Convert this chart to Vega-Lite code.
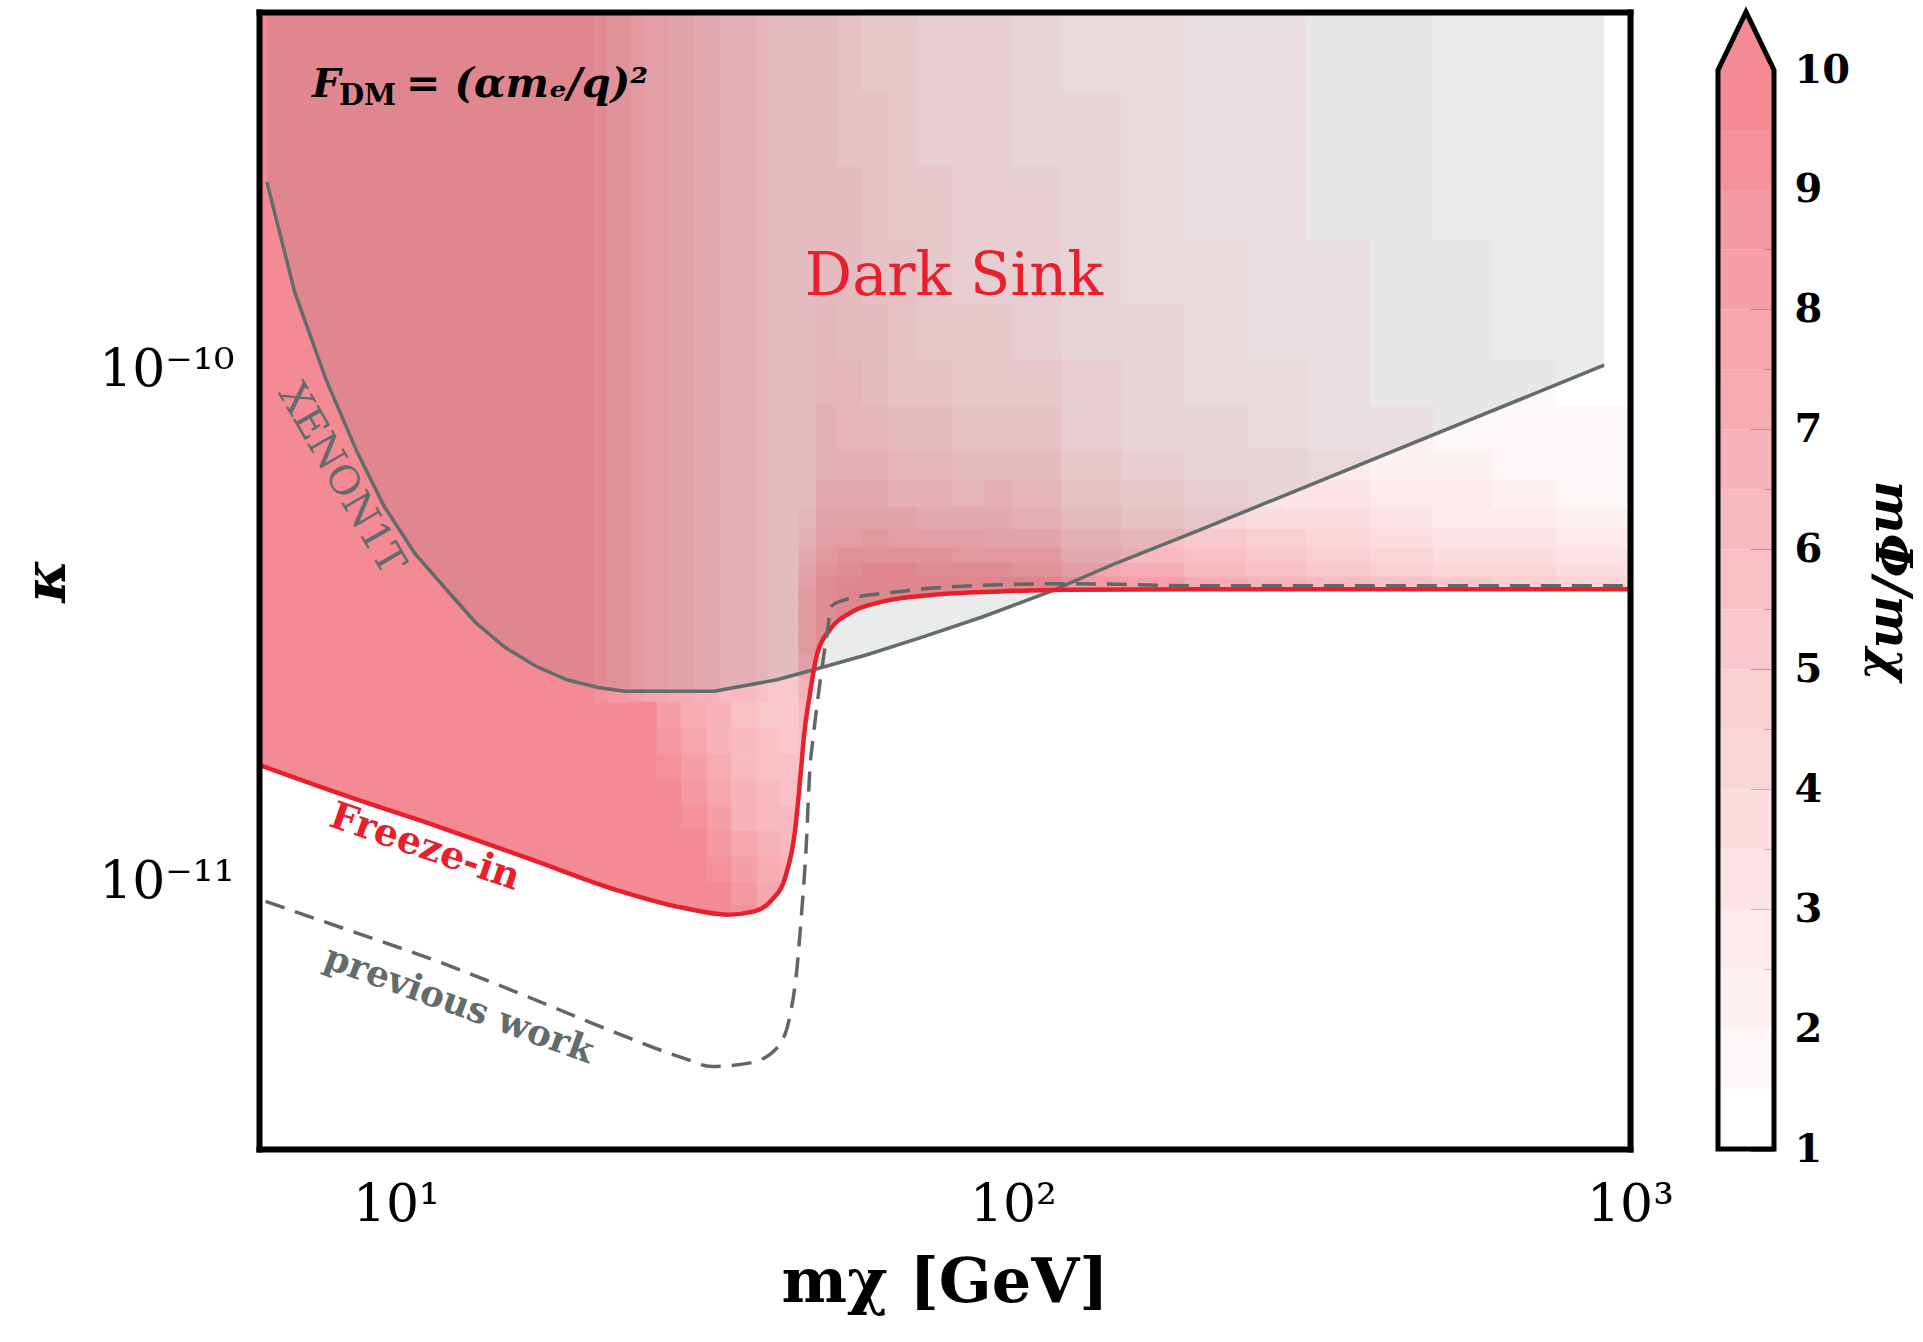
{
  "$schema": "https://vega.github.io/schema/vega-lite/v6.json",
  "autosize": {"type": "none"},
  "width": 1371,
  "height": 1137,
  "padding": {"left": 259, "top": 12, "right": 293, "bottom": 193},
  "background": "white",
  "config": {
    "view": {"stroke": null},
    "axis": {"grid": false, "domain": false, "tickColor": "black", "labelColor": "black", "titleColor": "black", "zindex": 1}
  },
  "datasets": {
    "cells": [
      {"m0":5.9,"m1":20,"k0":3e-12,"k1":5e-10,"v":10},
      {"m0":20,"m1":22,"k0":3e-12,"k1":2.24e-11,"v":10},
      {"m0":22,"m1":24,"k0":3e-12,"k1":2.24e-11,"v":10},
      {"m0":20,"m1":21,"k0":2.24e-11,"k1":5e-10,"v":9.8},
      {"m0":21,"m1":22,"k0":2.24e-11,"k1":5e-10,"v":9.38},
      {"m0":22,"m1":23,"k0":2.24e-11,"k1":5e-10,"v":8.96},
      {"m0":23,"m1":24,"k0":2.24e-11,"k1":5e-10,"v":8.63},
      {"m0":24,"m1":25.2,"k0":2.24e-11,"k1":5e-10,"v":8.28},
      {"m0":25.2,"m1":26.5,"k0":2.24e-11,"k1":5e-10,"v":7.93},
      {"m0":26.5,"m1":27.7,"k0":2.24e-11,"k1":5e-10,"v":7.65},
      {"m0":27.7,"m1":29,"k0":2.24e-11,"k1":5e-10,"v":7.39},
      {"m0":29,"m1":30.5,"k0":2.24e-11,"k1":5e-10,"v":7.12},
      {"m0":30.5,"m1":32,"k0":2.24e-11,"k1":5e-10,"v":6.88},
      {"m0":32,"m1":33.5,"k0":2.24e-11,"k1":5e-10,"v":6.66},
      {"m0":33.5,"m1":35,"k0":2.24e-11,"k1":5e-10,"v":6.46},
      {"m0":35,"m1":36.7,"k0":2.24e-11,"k1":5e-10,"v":6.26},
      {"m0":36.7,"m1":38.5,"k0":2.24e-11,"k1":5e-10,"v":6.06},
      {"m0":38.5,"m1":40.2,"k0":2.24e-11,"k1":5e-10,"v":5.6},
      {"m0":40.2,"m1":42,"k0":2.24e-11,"k1":5e-10,"v":5.4},
      {"m0":42,"m1":43.5,"k0":2.24e-11,"k1":5e-10,"v":5.2},
      {"m0":43.5,"m1":45,"k0":2.24e-11,"k1":5e-10,"v":5.0},
      {"m0":24,"m1":26.5,"k0":3e-12,"k1":2e-11,"v":10},
      {"m0":24,"m1":26.5,"k0":2e-11,"k1":2.24e-11,"v":9.55},
      {"m0":26.5,"m1":29,"k0":3e-12,"k1":1.58e-11,"v":10},
      {"m0":26.5,"m1":29,"k0":1.58e-11,"k1":1.78e-11,"v":9.48},
      {"m0":26.5,"m1":29,"k0":1.78e-11,"k1":2e-11,"v":8.84},
      {"m0":26.5,"m1":29,"k0":2e-11,"k1":2.24e-11,"v":8.28},
      {"m0":29,"m1":32,"k0":3e-12,"k1":1.26e-11,"v":10},
      {"m0":29,"m1":32,"k0":1.26e-11,"k1":1.41e-11,"v":9.44},
      {"m0":29,"m1":32,"k0":1.41e-11,"k1":1.58e-11,"v":8.76},
      {"m0":29,"m1":32,"k0":1.58e-11,"k1":1.78e-11,"v":8.18},
      {"m0":29,"m1":32,"k0":1.78e-11,"k1":2e-11,"v":7.69},
      {"m0":29,"m1":32,"k0":2e-11,"k1":2.24e-11,"v":7.25},
      {"m0":32,"m1":35,"k0":3e-12,"k1":1e-11,"v":10},
      {"m0":32,"m1":35,"k0":1e-11,"k1":1.12e-11,"v":9.42},
      {"m0":32,"m1":35,"k0":1.12e-11,"k1":1.26e-11,"v":8.68},
      {"m0":32,"m1":35,"k0":1.26e-11,"k1":1.41e-11,"v":8.03},
      {"m0":32,"m1":35,"k0":1.41e-11,"k1":1.58e-11,"v":7.55},
      {"m0":32,"m1":35,"k0":1.58e-11,"k1":1.78e-11,"v":7.13},
      {"m0":32,"m1":35,"k0":1.78e-11,"k1":2e-11,"v":6.75},
      {"m0":32,"m1":35,"k0":2e-11,"k1":2.24e-11,"v":6.5},
      {"m0":35,"m1":38.5,"k0":3e-12,"k1":9e-12,"v":9.41},
      {"m0":35,"m1":38.5,"k0":9e-12,"k1":1e-11,"v":8.75},
      {"m0":35,"m1":38.5,"k0":1e-11,"k1":1.12e-11,"v":8.13},
      {"m0":35,"m1":38.5,"k0":1.12e-11,"k1":1.26e-11,"v":7.51},
      {"m0":35,"m1":38.5,"k0":1.26e-11,"k1":1.41e-11,"v":6.99},
      {"m0":35,"m1":38.5,"k0":1.41e-11,"k1":1.58e-11,"v":6.65},
      {"m0":35,"m1":38.5,"k0":1.58e-11,"k1":1.78e-11,"v":6.34},
      {"m0":35,"m1":38.5,"k0":1.78e-11,"k1":2e-11,"v":6.1},
      {"m0":35,"m1":38.5,"k0":2e-11,"k1":2.24e-11,"v":5.9},
      {"m0":38.5,"m1":42,"k0":3e-12,"k1":9e-12,"v":8.36},
      {"m0":38.5,"m1":42,"k0":9e-12,"k1":1e-11,"v":7.87},
      {"m0":38.5,"m1":42,"k0":1e-11,"k1":1.12e-11,"v":7.33},
      {"m0":38.5,"m1":42,"k0":1.12e-11,"k1":1.26e-11,"v":6.79},
      {"m0":38.5,"m1":42,"k0":1.26e-11,"k1":1.41e-11,"v":6.34},
      {"m0":38.5,"m1":42,"k0":1.41e-11,"k1":1.58e-11,"v":6.09},
      {"m0":38.5,"m1":42,"k0":1.58e-11,"k1":1.78e-11,"v":5.86},
      {"m0":38.5,"m1":42,"k0":1.78e-11,"k1":2e-11,"v":5.63},
      {"m0":38.5,"m1":42,"k0":2e-11,"k1":2.24e-11,"v":5.45},
      {"m0":42,"m1":45,"k0":3e-12,"k1":9e-12,"v":7.89},
      {"m0":42,"m1":45,"k0":9e-12,"k1":1e-11,"v":7.47},
      {"m0":42,"m1":45,"k0":1e-11,"k1":1.12e-11,"v":6.97},
      {"m0":42,"m1":45,"k0":1.12e-11,"k1":1.26e-11,"v":6.46},
      {"m0":42,"m1":45,"k0":1.26e-11,"k1":1.41e-11,"v":6.05},
      {"m0":42,"m1":45,"k0":1.41e-11,"k1":1.58e-11,"v":5.85},
      {"m0":42,"m1":45,"k0":1.58e-11,"k1":1.78e-11,"v":5.64},
      {"m0":42,"m1":45,"k0":1.78e-11,"k1":2e-11,"v":5.44},
      {"m0":42,"m1":45,"k0":2e-11,"k1":2.24e-11,"v":5.23},
      {"m0":45,"m1":48,"k0":1.2e-11,"k1":1.58e-11,"v":5.8},
      {"m0":45,"m1":48,"k0":1.58e-11,"k1":1.78e-11,"v":5.8},
      {"m0":45,"m1":48,"k0":1.78e-11,"k1":2e-11,"v":5.9},
      {"m0":45,"m1":48,"k0":2e-11,"k1":2.24e-11,"v":6.2},
      {"m0":45,"m1":48,"k0":2.24e-11,"k1":2.5e-11,"v":6.8},
      {"m0":45,"m1":48,"k0":2.5e-11,"k1":2.8e-11,"v":7.8},
      {"m0":45,"m1":48,"k0":2.8e-11,"k1":3.15e-11,"v":8.3},
      {"m0":45,"m1":48,"k0":3.15e-11,"k1":3.5e-11,"v":8.4},
      {"m0":45,"m1":48,"k0":3.5e-11,"k1":3.72e-11,"v":8.2},
      {"m0":45,"m1":48,"k0":3.72e-11,"k1":3.95e-11,"v":7.7},
      {"m0":45,"m1":48,"k0":3.95e-11,"k1":4.2e-11,"v":7.1},
      {"m0":45,"m1":48,"k0":4.2e-11,"k1":4.5e-11,"v":6.5},
      {"m0":45,"m1":48,"k0":4.5e-11,"k1":4.9e-11,"v":6.0},
      {"m0":45,"m1":48,"k0":4.9e-11,"k1":5.4e-11,"v":5.6},
      {"m0":45,"m1":48,"k0":5.4e-11,"k1":6.1e-11,"v":5.4},
      {"m0":45,"m1":48,"k0":6.1e-11,"k1":7e-11,"v":5.3},
      {"m0":45,"m1":48,"k0":7e-11,"k1":8.5e-11,"v":5.2},
      {"m0":45,"m1":48,"k0":8.5e-11,"k1":1.05e-10,"v":5.15},
      {"m0":45,"m1":48,"k0":1.05e-10,"k1":5e-10,"v":5.1},
      {"m0":48,"m1":52,"k0":2.5e-11,"k1":2.8e-11,"v":8.5},
      {"m0":48,"m1":52,"k0":2.8e-11,"k1":3.15e-11,"v":9.0},
      {"m0":48,"m1":52,"k0":3.15e-11,"k1":3.5e-11,"v":9.3},
      {"m0":48,"m1":52,"k0":3.5e-11,"k1":3.72e-11,"v":9.3},
      {"m0":48,"m1":52,"k0":3.72e-11,"k1":3.95e-11,"v":9.16},
      {"m0":48,"m1":52,"k0":3.95e-11,"k1":4.2e-11,"v":8.62},
      {"m0":48,"m1":52,"k0":4.2e-11,"k1":4.5e-11,"v":8.12},
      {"m0":48,"m1":52,"k0":4.5e-11,"k1":4.9e-11,"v":7.62},
      {"m0":48,"m1":52,"k0":4.9e-11,"k1":5.4e-11,"v":7.16},
      {"m0":48,"m1":52,"k0":5.4e-11,"k1":6.1e-11,"v":6.74},
      {"m0":48,"m1":52,"k0":6.1e-11,"k1":7e-11,"v":6.36},
      {"m0":48,"m1":52,"k0":7e-11,"k1":8.5e-11,"v":6.03},
      {"m0":48,"m1":52,"k0":8.5e-11,"k1":1.05e-10,"v":5.77},
      {"m0":48,"m1":52,"k0":1.05e-10,"k1":1.35e-10,"v":5.58},
      {"m0":48,"m1":52,"k0":1.35e-10,"k1":1.8e-10,"v":5.43},
      {"m0":48,"m1":52,"k0":1.8e-10,"k1":2.5e-10,"v":5.31},
      {"m0":48,"m1":52,"k0":2.5e-10,"k1":3.5e-10,"v":5.2},
      {"m0":48,"m1":52,"k0":3.5e-10,"k1":5e-10,"v":5.1},
      {"m0":52,"m1":57,"k0":3.15e-11,"k1":3.5e-11,"v":9.6},
      {"m0":52,"m1":57,"k0":3.5e-11,"k1":3.72e-11,"v":10},
      {"m0":52,"m1":57,"k0":3.72e-11,"k1":3.95e-11,"v":10.05},
      {"m0":52,"m1":57,"k0":3.95e-11,"k1":4.2e-11,"v":9.32},
      {"m0":52,"m1":57,"k0":4.2e-11,"k1":4.5e-11,"v":8.65},
      {"m0":52,"m1":57,"k0":4.5e-11,"k1":4.9e-11,"v":7.99},
      {"m0":52,"m1":57,"k0":4.9e-11,"k1":5.4e-11,"v":7.38},
      {"m0":52,"m1":57,"k0":5.4e-11,"k1":6.1e-11,"v":6.82},
      {"m0":52,"m1":57,"k0":6.1e-11,"k1":7e-11,"v":6.32},
      {"m0":52,"m1":57,"k0":7e-11,"k1":8.5e-11,"v":5.9},
      {"m0":52,"m1":57,"k0":8.5e-11,"k1":1.05e-10,"v":5.56},
      {"m0":52,"m1":57,"k0":1.05e-10,"k1":1.35e-10,"v":5.33},
      {"m0":52,"m1":57,"k0":1.35e-10,"k1":1.8e-10,"v":5.16},
      {"m0":52,"m1":57,"k0":1.8e-10,"k1":2.5e-10,"v":5.03},
      {"m0":52,"m1":57,"k0":2.5e-10,"k1":3.5e-10,"v":4.91},
      {"m0":52,"m1":57,"k0":3.5e-10,"k1":5e-10,"v":4.81},
      {"m0":57,"m1":63,"k0":3.15e-11,"k1":3.5e-11,"v":10},
      {"m0":57,"m1":63,"k0":3.5e-11,"k1":3.72e-11,"v":10.5},
      {"m0":57,"m1":63,"k0":3.72e-11,"k1":3.95e-11,"v":10.48},
      {"m0":57,"m1":63,"k0":3.95e-11,"k1":4.2e-11,"v":9.62},
      {"m0":57,"m1":63,"k0":4.2e-11,"k1":4.5e-11,"v":8.85},
      {"m0":57,"m1":63,"k0":4.5e-11,"k1":4.9e-11,"v":8.08},
      {"m0":57,"m1":63,"k0":4.9e-11,"k1":5.4e-11,"v":7.38},
      {"m0":57,"m1":63,"k0":5.4e-11,"k1":6.1e-11,"v":6.73},
      {"m0":57,"m1":63,"k0":6.1e-11,"k1":7e-11,"v":6.16},
      {"m0":57,"m1":63,"k0":7e-11,"k1":8.5e-11,"v":5.67},
      {"m0":57,"m1":63,"k0":8.5e-11,"k1":1.05e-10,"v":5.3},
      {"m0":57,"m1":63,"k0":1.05e-10,"k1":1.35e-10,"v":5.04},
      {"m0":57,"m1":63,"k0":1.35e-10,"k1":1.8e-10,"v":4.85},
      {"m0":57,"m1":63,"k0":1.8e-10,"k1":2.5e-10,"v":4.71},
      {"m0":57,"m1":63,"k0":2.5e-10,"k1":3.5e-10,"v":4.6},
      {"m0":57,"m1":63,"k0":3.5e-10,"k1":5e-10,"v":4.49},
      {"m0":63,"m1":70,"k0":3.5e-11,"k1":3.72e-11,"v":10.5},
      {"m0":63,"m1":70,"k0":3.72e-11,"k1":3.95e-11,"v":10.45},
      {"m0":63,"m1":70,"k0":3.95e-11,"k1":4.2e-11,"v":9.54},
      {"m0":63,"m1":70,"k0":4.2e-11,"k1":4.5e-11,"v":8.73},
      {"m0":63,"m1":70,"k0":4.5e-11,"k1":4.9e-11,"v":7.91},
      {"m0":63,"m1":70,"k0":4.9e-11,"k1":5.4e-11,"v":7.17},
      {"m0":63,"m1":70,"k0":5.4e-11,"k1":6.1e-11,"v":6.49},
      {"m0":63,"m1":70,"k0":6.1e-11,"k1":7e-11,"v":5.89},
      {"m0":63,"m1":70,"k0":7e-11,"k1":8.5e-11,"v":5.37},
      {"m0":63,"m1":70,"k0":8.5e-11,"k1":1.05e-10,"v":4.98},
      {"m0":63,"m1":70,"k0":1.05e-10,"k1":1.35e-10,"v":4.71},
      {"m0":63,"m1":70,"k0":1.35e-10,"k1":1.8e-10,"v":4.51},
      {"m0":63,"m1":70,"k0":1.8e-10,"k1":2.5e-10,"v":4.37},
      {"m0":63,"m1":70,"k0":2.5e-10,"k1":3.5e-10,"v":4.25},
      {"m0":63,"m1":70,"k0":3.5e-10,"k1":5e-10,"v":4.14},
      {"m0":70,"m1":80,"k0":3.5e-11,"k1":3.72e-11,"v":10.5},
      {"m0":70,"m1":80,"k0":3.72e-11,"k1":3.95e-11,"v":10.41},
      {"m0":70,"m1":80,"k0":3.95e-11,"k1":4.2e-11,"v":9.46},
      {"m0":70,"m1":80,"k0":4.2e-11,"k1":4.5e-11,"v":8.59},
      {"m0":70,"m1":80,"k0":4.5e-11,"k1":4.9e-11,"v":7.73},
      {"m0":70,"m1":80,"k0":4.9e-11,"k1":5.4e-11,"v":6.94},
      {"m0":70,"m1":80,"k0":5.4e-11,"k1":6.1e-11,"v":6.22},
      {"m0":70,"m1":80,"k0":6.1e-11,"k1":7e-11,"v":5.59},
      {"m0":70,"m1":80,"k0":7e-11,"k1":8.5e-11,"v":5.05},
      {"m0":70,"m1":80,"k0":8.5e-11,"k1":1.05e-10,"v":4.64},
      {"m0":70,"m1":80,"k0":1.05e-10,"k1":1.35e-10,"v":4.35},
      {"m0":70,"m1":80,"k0":1.35e-10,"k1":1.8e-10,"v":4.11},
      {"m0":70,"m1":80,"k0":1.8e-10,"k1":2.5e-10,"v":4.0},
      {"m0":70,"m1":80,"k0":2.5e-10,"k1":3.5e-10,"v":3.94},
      {"m0":70,"m1":80,"k0":3.5e-10,"k1":5e-10,"v":3.87},
      {"m0":80,"m1":90,"k0":3.5e-11,"k1":3.72e-11,"v":10.5},
      {"m0":80,"m1":90,"k0":3.72e-11,"k1":3.95e-11,"v":10.38},
      {"m0":80,"m1":90,"k0":3.95e-11,"k1":4.2e-11,"v":9.35},
      {"m0":80,"m1":90,"k0":4.2e-11,"k1":4.5e-11,"v":8.44},
      {"m0":80,"m1":90,"k0":4.5e-11,"k1":4.9e-11,"v":7.52},
      {"m0":80,"m1":90,"k0":4.9e-11,"k1":5.4e-11,"v":6.7},
      {"m0":80,"m1":90,"k0":5.4e-11,"k1":6.1e-11,"v":5.95},
      {"m0":80,"m1":90,"k0":6.1e-11,"k1":7e-11,"v":5.29},
      {"m0":80,"m1":90,"k0":7e-11,"k1":8.5e-11,"v":4.75},
      {"m0":80,"m1":90,"k0":8.5e-11,"k1":1.05e-10,"v":4.34},
      {"m0":80,"m1":90,"k0":1.05e-10,"k1":1.35e-10,"v":4.07},
      {"m0":80,"m1":90,"k0":1.35e-10,"k1":1.8e-10,"v":3.91},
      {"m0":80,"m1":90,"k0":1.8e-10,"k1":2.5e-10,"v":3.81},
      {"m0":80,"m1":90,"k0":2.5e-10,"k1":3.5e-10,"v":3.74},
      {"m0":80,"m1":90,"k0":3.5e-10,"k1":5e-10,"v":3.67},
      {"m0":90,"m1":100,"k0":3.5e-11,"k1":3.72e-11,"v":10.5},
      {"m0":90,"m1":100,"k0":3.72e-11,"k1":3.95e-11,"v":9.96},
      {"m0":90,"m1":100,"k0":3.95e-11,"k1":4.2e-11,"v":9.08},
      {"m0":90,"m1":100,"k0":4.2e-11,"k1":4.5e-11,"v":8.28},
      {"m0":90,"m1":100,"k0":4.5e-11,"k1":4.9e-11,"v":7.46},
      {"m0":90,"m1":100,"k0":4.9e-11,"k1":5.4e-11,"v":6.72},
      {"m0":90,"m1":100,"k0":5.4e-11,"k1":6.1e-11,"v":6.02},
      {"m0":90,"m1":100,"k0":6.1e-11,"k1":7e-11,"v":5.37},
      {"m0":90,"m1":100,"k0":7e-11,"k1":8.5e-11,"v":4.8},
      {"m0":90,"m1":100,"k0":8.5e-11,"k1":1.05e-10,"v":4.39},
      {"m0":90,"m1":100,"k0":1.05e-10,"k1":1.35e-10,"v":4.1},
      {"m0":90,"m1":100,"k0":1.35e-10,"k1":1.8e-10,"v":3.91},
      {"m0":90,"m1":100,"k0":1.8e-10,"k1":2.5e-10,"v":3.75},
      {"m0":90,"m1":100,"k0":2.5e-10,"k1":3.5e-10,"v":3.62},
      {"m0":90,"m1":100,"k0":3.5e-10,"k1":5e-10,"v":3.5},
      {"m0":100,"m1":120,"k0":3.5e-11,"k1":3.72e-11,"v":10.5},
      {"m0":100,"m1":120,"k0":3.72e-11,"k1":3.95e-11,"v":9.92},
      {"m0":100,"m1":120,"k0":3.95e-11,"k1":4.2e-11,"v":8.97},
      {"m0":100,"m1":120,"k0":4.2e-11,"k1":4.5e-11,"v":8.12},
      {"m0":100,"m1":120,"k0":4.5e-11,"k1":4.9e-11,"v":7.26},
      {"m0":100,"m1":120,"k0":4.9e-11,"k1":5.4e-11,"v":6.48},
      {"m0":100,"m1":120,"k0":5.4e-11,"k1":6.1e-11,"v":5.77},
      {"m0":100,"m1":120,"k0":6.1e-11,"k1":7e-11,"v":5.13},
      {"m0":100,"m1":120,"k0":7e-11,"k1":8.5e-11,"v":4.59},
      {"m0":100,"m1":120,"k0":8.5e-11,"k1":1.05e-10,"v":4.17},
      {"m0":100,"m1":120,"k0":1.05e-10,"k1":1.35e-10,"v":3.88},
      {"m0":100,"m1":120,"k0":1.35e-10,"k1":1.8e-10,"v":3.68},
      {"m0":100,"m1":120,"k0":1.8e-10,"k1":2.5e-10,"v":3.51},
      {"m0":100,"m1":120,"k0":2.5e-10,"k1":3.5e-10,"v":3.38},
      {"m0":100,"m1":120,"k0":3.5e-10,"k1":5e-10,"v":3.25},
      {"m0":120,"m1":150,"k0":3.7e-11,"k1":3.95e-11,"v":8.86},
      {"m0":120,"m1":150,"k0":3.95e-11,"k1":4.2e-11,"v":7.84},
      {"m0":120,"m1":150,"k0":4.2e-11,"k1":4.5e-11,"v":6.96},
      {"m0":120,"m1":150,"k0":4.5e-11,"k1":4.9e-11,"v":6.12},
      {"m0":120,"m1":150,"k0":4.9e-11,"k1":5.4e-11,"v":5.41},
      {"m0":120,"m1":150,"k0":5.4e-11,"k1":6.1e-11,"v":4.79},
      {"m0":120,"m1":150,"k0":6.1e-11,"k1":7e-11,"v":4.29},
      {"m0":120,"m1":150,"k0":7e-11,"k1":8.5e-11,"v":3.88},
      {"m0":120,"m1":150,"k0":8.5e-11,"k1":1.05e-10,"v":3.6},
      {"m0":120,"m1":150,"k0":1.05e-10,"k1":1.35e-10,"v":3.4},
      {"m0":120,"m1":150,"k0":1.35e-10,"k1":1.8e-10,"v":3.26},
      {"m0":120,"m1":150,"k0":1.8e-10,"k1":2.5e-10,"v":3.14},
      {"m0":120,"m1":150,"k0":2.5e-10,"k1":3.5e-10,"v":3.02},
      {"m0":120,"m1":150,"k0":3.5e-10,"k1":5e-10,"v":2.92},
      {"m0":150,"m1":190,"k0":3.7e-11,"k1":3.95e-11,"v":8.11},
      {"m0":150,"m1":190,"k0":3.95e-11,"k1":4.2e-11,"v":7.16},
      {"m0":150,"m1":190,"k0":4.2e-11,"k1":4.5e-11,"v":6.34},
      {"m0":150,"m1":190,"k0":4.5e-11,"k1":4.9e-11,"v":5.56},
      {"m0":150,"m1":190,"k0":4.9e-11,"k1":5.4e-11,"v":4.9},
      {"m0":150,"m1":190,"k0":5.4e-11,"k1":6.1e-11,"v":4.32},
      {"m0":150,"m1":190,"k0":6.1e-11,"k1":7e-11,"v":3.85},
      {"m0":150,"m1":190,"k0":7e-11,"k1":8.5e-11,"v":3.47},
      {"m0":150,"m1":190,"k0":8.5e-11,"k1":1.05e-10,"v":3.19},
      {"m0":150,"m1":190,"k0":1.05e-10,"k1":1.35e-10,"v":3.03},
      {"m0":150,"m1":190,"k0":1.35e-10,"k1":1.8e-10,"v":2.9},
      {"m0":150,"m1":190,"k0":1.8e-10,"k1":2.5e-10,"v":2.8},
      {"m0":150,"m1":190,"k0":2.5e-10,"k1":3.5e-10,"v":2.7},
      {"m0":150,"m1":190,"k0":3.5e-10,"k1":5e-10,"v":2.61},
      {"m0":190,"m1":240,"k0":3.7e-11,"k1":3.95e-11,"v":7.35},
      {"m0":190,"m1":240,"k0":3.95e-11,"k1":4.2e-11,"v":6.49},
      {"m0":190,"m1":240,"k0":4.2e-11,"k1":4.5e-11,"v":5.73},
      {"m0":190,"m1":240,"k0":4.5e-11,"k1":4.9e-11,"v":5.01},
      {"m0":190,"m1":240,"k0":4.9e-11,"k1":5.4e-11,"v":4.4},
      {"m0":190,"m1":240,"k0":5.4e-11,"k1":6.1e-11,"v":3.87},
      {"m0":190,"m1":240,"k0":6.1e-11,"k1":7e-11,"v":3.44},
      {"m0":190,"m1":240,"k0":7e-11,"k1":8.5e-11,"v":3.1},
      {"m0":190,"m1":240,"k0":8.5e-11,"k1":1.05e-10,"v":2.86},
      {"m0":190,"m1":240,"k0":1.05e-10,"k1":1.35e-10,"v":2.7},
      {"m0":190,"m1":240,"k0":1.35e-10,"k1":1.8e-10,"v":2.58},
      {"m0":190,"m1":240,"k0":1.8e-10,"k1":2.5e-10,"v":2.48},
      {"m0":190,"m1":240,"k0":2.5e-10,"k1":3.5e-10,"v":2.39},
      {"m0":190,"m1":240,"k0":3.5e-10,"k1":5e-10,"v":2.31},
      {"m0":240,"m1":300,"k0":3.7e-11,"k1":3.95e-11,"v":6.69},
      {"m0":240,"m1":300,"k0":3.95e-11,"k1":4.2e-11,"v":5.89},
      {"m0":240,"m1":300,"k0":4.2e-11,"k1":4.5e-11,"v":5.19},
      {"m0":240,"m1":300,"k0":4.5e-11,"k1":4.9e-11,"v":4.53},
      {"m0":240,"m1":300,"k0":4.9e-11,"k1":5.4e-11,"v":3.97},
      {"m0":240,"m1":300,"k0":5.4e-11,"k1":6.1e-11,"v":3.47},
      {"m0":240,"m1":300,"k0":6.1e-11,"k1":7e-11,"v":3.08},
      {"m0":240,"m1":300,"k0":7e-11,"k1":8.5e-11,"v":2.76},
      {"m0":240,"m1":300,"k0":8.5e-11,"k1":1.05e-10,"v":2.53},
      {"m0":240,"m1":300,"k0":1.05e-10,"k1":1.35e-10,"v":2.39},
      {"m0":240,"m1":300,"k0":1.35e-10,"k1":1.8e-10,"v":2.28},
      {"m0":240,"m1":300,"k0":1.8e-10,"k1":2.5e-10,"v":2.19},
      {"m0":240,"m1":300,"k0":2.5e-10,"k1":3.5e-10,"v":2.1},
      {"m0":240,"m1":300,"k0":3.5e-10,"k1":5e-10,"v":2.02},
      {"m0":300,"m1":380,"k0":3.7e-11,"k1":3.95e-11,"v":6.13},
      {"m0":300,"m1":380,"k0":3.95e-11,"k1":4.2e-11,"v":5.38},
      {"m0":300,"m1":380,"k0":4.2e-11,"k1":4.5e-11,"v":4.73},
      {"m0":300,"m1":380,"k0":4.5e-11,"k1":4.9e-11,"v":4.11},
      {"m0":300,"m1":380,"k0":4.9e-11,"k1":5.4e-11,"v":3.58},
      {"m0":300,"m1":380,"k0":5.4e-11,"k1":6.1e-11,"v":3.12},
      {"m0":300,"m1":380,"k0":6.1e-11,"k1":7e-11,"v":2.75},
      {"m0":300,"m1":380,"k0":7e-11,"k1":8.5e-11,"v":2.45},
      {"m0":300,"m1":380,"k0":8.5e-11,"k1":1.05e-10,"v":2.23},
      {"m0":300,"m1":380,"k0":1.05e-10,"k1":1.35e-10,"v":2.1},
      {"m0":300,"m1":380,"k0":1.35e-10,"k1":1.8e-10,"v":2.0},
      {"m0":300,"m1":380,"k0":1.8e-10,"k1":2.5e-10,"v":1.93},
      {"m0":300,"m1":380,"k0":2.5e-10,"k1":3.5e-10,"v":1.86},
      {"m0":300,"m1":380,"k0":3.5e-10,"k1":5e-10,"v":1.79},
      {"m0":380,"m1":480,"k0":3.7e-11,"k1":3.95e-11,"v":5.56},
      {"m0":380,"m1":480,"k0":3.95e-11,"k1":4.2e-11,"v":4.87},
      {"m0":380,"m1":480,"k0":4.2e-11,"k1":4.5e-11,"v":4.26},
      {"m0":380,"m1":480,"k0":4.5e-11,"k1":4.9e-11,"v":3.69},
      {"m0":380,"m1":480,"k0":4.9e-11,"k1":5.4e-11,"v":3.21},
      {"m0":380,"m1":480,"k0":5.4e-11,"k1":6.1e-11,"v":2.79},
      {"m0":380,"m1":480,"k0":6.1e-11,"k1":7e-11,"v":2.44},
      {"m0":380,"m1":480,"k0":7e-11,"k1":8.5e-11,"v":2.17},
      {"m0":380,"m1":480,"k0":8.5e-11,"k1":1.05e-10,"v":1.98},
      {"m0":380,"m1":480,"k0":1.05e-10,"k1":1.35e-10,"v":1.86},
      {"m0":380,"m1":480,"k0":1.35e-10,"k1":1.8e-10,"v":1.77},
      {"m0":380,"m1":480,"k0":1.8e-10,"k1":2.5e-10,"v":1.71},
      {"m0":380,"m1":480,"k0":2.5e-10,"k1":3.5e-10,"v":1.63},
      {"m0":380,"m1":480,"k0":3.5e-10,"k1":5e-10,"v":1.57},
      {"m0":480,"m1":600,"k0":3.7e-11,"k1":3.95e-11,"v":5.09},
      {"m0":480,"m1":600,"k0":3.95e-11,"k1":4.2e-11,"v":4.45},
      {"m0":480,"m1":600,"k0":4.2e-11,"k1":4.5e-11,"v":3.88},
      {"m0":480,"m1":600,"k0":4.5e-11,"k1":4.9e-11,"v":3.35},
      {"m0":480,"m1":600,"k0":4.9e-11,"k1":5.4e-11,"v":2.9},
      {"m0":480,"m1":600,"k0":5.4e-11,"k1":6.1e-11,"v":2.5},
      {"m0":480,"m1":600,"k0":6.1e-11,"k1":7e-11,"v":2.19},
      {"m0":480,"m1":600,"k0":7e-11,"k1":8.5e-11,"v":1.93},
      {"m0":480,"m1":600,"k0":8.5e-11,"k1":1.05e-10,"v":1.75},
      {"m0":480,"m1":600,"k0":1.05e-10,"k1":1.35e-10,"v":1.64},
      {"m0":480,"m1":600,"k0":1.35e-10,"k1":1.8e-10,"v":1.55},
      {"m0":480,"m1":600,"k0":1.8e-10,"k1":2.5e-10,"v":1.49},
      {"m0":480,"m1":600,"k0":2.5e-10,"k1":3.5e-10,"v":1.43},
      {"m0":480,"m1":600,"k0":3.5e-10,"k1":5e-10,"v":1.38},
      {"m0":600,"m1":760,"k0":3.7e-11,"k1":3.95e-11,"v":4.62},
      {"m0":600,"m1":760,"k0":3.95e-11,"k1":4.2e-11,"v":4.02},
      {"m0":600,"m1":760,"k0":4.2e-11,"k1":4.5e-11,"v":3.5},
      {"m0":600,"m1":760,"k0":4.5e-11,"k1":4.9e-11,"v":3.01},
      {"m0":600,"m1":760,"k0":4.9e-11,"k1":5.4e-11,"v":2.59},
      {"m0":600,"m1":760,"k0":5.4e-11,"k1":6.1e-11,"v":2.22},
      {"m0":600,"m1":760,"k0":6.1e-11,"k1":7e-11,"v":1.93},
      {"m0":600,"m1":760,"k0":7e-11,"k1":8.5e-11,"v":1.7},
      {"m0":600,"m1":760,"k0":8.5e-11,"k1":1.05e-10,"v":1.54},
      {"m0":600,"m1":760,"k0":1.05e-10,"k1":1.35e-10,"v":1.44},
      {"m0":600,"m1":760,"k0":1.35e-10,"k1":1.8e-10,"v":1.37},
      {"m0":600,"m1":760,"k0":1.8e-10,"k1":2.5e-10,"v":1.32},
      {"m0":600,"m1":760,"k0":2.5e-10,"k1":3.5e-10,"v":1.26},
      {"m0":600,"m1":760,"k0":3.5e-10,"k1":5e-10,"v":1.21},
      {"m0":760,"m1":1000,"k0":3.7e-11,"k1":3.95e-11,"v":4.24},
      {"m0":760,"m1":1000,"k0":3.95e-11,"k1":4.2e-11,"v":3.68},
      {"m0":760,"m1":1000,"k0":4.2e-11,"k1":4.5e-11,"v":3.19},
      {"m0":760,"m1":1000,"k0":4.5e-11,"k1":4.9e-11,"v":2.73},
      {"m0":760,"m1":1000,"k0":4.9e-11,"k1":5.4e-11,"v":2.33},
      {"m0":760,"m1":1000,"k0":5.4e-11,"k1":6.1e-11,"v":1.99},
      {"m0":760,"m1":1000,"k0":6.1e-11,"k1":7e-11,"v":1.71},
      {"m0":760,"m1":1000,"k0":7e-11,"k1":8.5e-11,"v":1.5},
      {"m0":760,"m1":1000,"k0":8.5e-11,"k1":1.05e-10,"v":1.34},
      {"m0":760,"m1":1000,"k0":1.05e-10,"k1":1.35e-10,"v":1.25},
      {"m0":760,"m1":1000,"k0":1.35e-10,"k1":1.8e-10,"v":1.18},
      {"m0":760,"m1":1000,"k0":1.8e-10,"k1":2.5e-10,"v":1.13},
      {"m0":760,"m1":1000,"k0":2.5e-10,"k1":3.5e-10,"v":1.07},
      {"m0":760,"m1":1000,"k0":3.5e-10,"k1":5e-10,"v":1.02}
    ],
    "freezein": [
      {"m":6.0,"k":1.69e-11},{"m":8.36,"k":1.466e-11},{"m":11.68,"k":1.281e-11},{"m":16.31,"k":1.112e-11},
      {"m":22.73,"k":9.63e-12},{"m":29.18,"k":8.88e-12},{"m":34.5,"k":8.61e-12},{"m":38.1,"k":8.74e-12},
      {"m":40.7,"k":9.21e-12},{"m":42.8,"k":1.023e-11},{"m":44.3,"k":1.245e-11},{"m":45.4,"k":1.678e-11},
      {"m":45.8,"k":1.9e-11},{"m":46.9,"k":2.334e-11},{"m":48.05,"k":2.753e-11},{"m":50.5,"k":3.103e-11},
      {"m":54.4,"k":3.345e-11},{"m":61.6,"k":3.525e-11},{"m":74.3,"k":3.633e-11},{"m":95.3,"k":3.687e-11},
      {"m":122.2,"k":3.715e-11},{"m":200,"k":3.725e-11},{"m":1000,"k":3.725e-11}
    ],
    "xenon": [
      {"m":6.18,"k":2.325e-10},{"m":6.85,"k":1.4225e-10},{"m":7.7,"k":9.58e-11},{"m":8.65,"k":6.91e-11},
      {"m":9.56,"k":5.42e-11},{"m":10.74,"k":4.37e-11},{"m":12.08,"k":3.715e-11},{"m":13.45,"k":3.21e-11},
      {"m":15.0,"k":2.87e-11},{"m":16.87,"k":2.633e-11},{"m":18.93,"k":2.478e-11},{"m":21.26,"k":2.393e-11},
      {"m":23.5,"k":2.353e-11},{"m":32.8,"k":2.353e-11},{"m":41.45,"k":2.478e-11},{"m":48.5,"k":2.61e-11},
      {"m":58.0,"k":2.773e-11},{"m":71.5,"k":3.006e-11},{"m":89.4,"k":3.29e-11},{"m":114.8,"k":3.683e-11},
      {"m":147.5,"k":4.195e-11},{"m":201,"k":4.866e-11},{"m":908,"k":1.0205e-10}
    ],
    "previous": [
      {"m":6.15,"k":9.14e-12},{"m":8.36,"k":8.04e-12},{"m":11.68,"k":6.98e-12},{"m":16.31,"k":5.96e-12},
      {"m":22.73,"k":5.06e-12},{"m":29.18,"k":4.52e-12},{"m":32.5,"k":4.35e-12},{"m":37.5,"k":4.42e-12},
      {"m":41.45,"k":4.73e-12},{"m":43.5,"k":5.45e-12},{"m":44.7,"k":6.82e-12},{"m":45.4,"k":8.54e-12},
      {"m":46.2,"k":1.153e-11},{"m":46.9,"k":1.678e-11},{"m":47.4,"k":1.891e-11},{"m":48.66,"k":2.444e-11},
      {"m":49.9,"k":3.012e-11},{"m":50.8,"k":3.447e-11},{"m":52.4,"k":3.525e-11},{"m":65.6,"k":3.687e-11},
      {"m":95.3,"k":3.8e-11},{"m":122.3,"k":3.818e-11},{"m":201,"k":3.784e-11},{"m":1000,"k":3.784e-11}
    ],
    "bands": [
      {"lo":1,"hi":1.5,"v":1.25},{"lo":1.5,"hi":2,"v":1.75},{"lo":2,"hi":2.5,"v":2.25},{"lo":2.5,"hi":3,"v":2.75},
      {"lo":3,"hi":3.5,"v":3.25},{"lo":3.5,"hi":4,"v":3.75},{"lo":4,"hi":4.5,"v":4.25},{"lo":4.5,"hi":5,"v":4.75},
      {"lo":5,"hi":5.5,"v":5.25},{"lo":5.5,"hi":6,"v":5.75},{"lo":6,"hi":6.5,"v":6.25},{"lo":6.5,"hi":7,"v":6.75},
      {"lo":7,"hi":7.5,"v":7.25},{"lo":7.5,"hi":8,"v":7.75},{"lo":8,"hi":8.5,"v":8.25},{"lo":8.5,"hi":9,"v":8.75},
      {"lo":9,"hi":9.5,"v":9.25},{"lo":9.5,"hi":10,"v":9.75}
    ],
    "tri": [
      {"p":0,"t":10,"b":10,"v":10.5},{"p":0.5,"t":10.484,"b":10,"v":10.5},{"p":1,"t":10,"b":10,"v":10.5}
    ],
    "outline": [
      {"p":0,"t":1,"o":1},{"p":0,"t":10,"o":2},{"p":0.5,"t":10.484,"o":3},{"p":1,"t":10,"o":4},{"p":1,"t":1,"o":5},{"p":0,"t":1,"o":6}
    ]
  },
  "layer": [
    {
      "layer": [
        {
          "data": {"name": "cells"},
          "mark": {"type": "rect", "clip": true, "strokeWidth": 1},
          "encoding": {
            "x": {"field": "m0", "type": "quantitative", "scale": {"type": "log", "domain": [6, 1000], "nice": false},
              "axis": {"orient": "bottom", "values": [10, 100, 1000], "labelExpr": "datum.value == 10 ? '10¹' : (datum.value == 100 ? '10²' : '10³')",
                "tickSize": 25, "offset": -25, "tickWidth": 5, "labelFont": "DejaVu Serif", "labelFontSize": 52, "labelPadding": 30,
                "labelFlush": false, "labelOverlap": false, "labelBound": false,
                "title": "mχ [GeV]", "titleFont": "DejaVu Serif", "titleFontWeight": "bold", "titleFontSize": 62, "titlePadding": 22}},
            "x2": {"field": "m1"},
            "y": {"field": "k0", "type": "quantitative", "scale": {"type": "log", "domain": [3e-12, 5e-10], "nice": false},
              "axis": {"orient": "left", "values": [1e-11, 1e-10], "labelExpr": "datum.value < 5e-11 ? '10⁻¹¹' : '10⁻¹⁰'",
                "tickSize": 25, "offset": -25, "tickWidth": 6, "labelFont": "DejaVu Serif", "labelFontSize": 52, "labelPadding": 25,
                "labelFlush": false, "labelOverlap": false, "labelBound": false,
                "title": "κ", "titleFont": "DejaVu Serif", "titleFontWeight": "bold", "titleFontStyle": "italic", "titleFontSize": 58, "titlePadding": 22}},
            "y2": {"field": "k1"},
            "color": {"field": "v", "type": "quantitative", "legend": null,
              "scale": {"type": "threshold", "domain": [1.5,2,2.5,3,3.5,4,4.5,5,5.5,6,6.5,7,7.5,8,8.5,9,9.5,10],
                "range": ["#ffffff","#fef8f9","#fef1f2","#fdeaec","#fce4e6","#fcdde0","#fbd6d9","#facfd3","#f9c8cd","#f9c1c6","#f8bac0","#f7b3ba","#f7acb4","#f6a6ad","#f59fa7","#f498a1","#f4919a","#f38a94","#f38a94"]}},
            "stroke": {"field": "v", "type": "quantitative", "legend": null,
              "scale": {"type": "threshold", "domain": [1.5,2,2.5,3,3.5,4,4.5,5,5.5,6,6.5,7,7.5,8,8.5,9,9.5,10],
                "range": ["#ffffff","#fef8f9","#fef1f2","#fdeaec","#fce4e6","#fcdde0","#fbd6d9","#facfd3","#f9c8cd","#f9c1c6","#f8bac0","#f7b3ba","#f7acb4","#f6a6ad","#f59fa7","#f498a1","#f4919a","#f38a94","#f38a94"]}}
          }
        },
        {
          "data": {"name": "freezein"},
          "mark": {"type": "area", "color": "white", "interpolate": "monotone", "clip": true},
          "encoding": {
            "x": {"field": "m", "type": "quantitative", "scale": {"type": "log", "domain": [6, 1000], "nice": false},
              "axis": {"orient": "bottom", "domain": true, "domainWidth": 6, "domainColor": "black", "domainCap": "square", "ticks": false, "labels": false, "title": null, "zindex": 2}},
            "y": {"field": "k", "type": "quantitative", "scale": {"type": "log", "domain": [3e-12, 5e-10], "nice": false},
              "axis": {"orient": "left", "domain": true, "domainWidth": 6, "domainColor": "black", "domainCap": "square", "ticks": false, "labels": false, "title": null, "zindex": 2}},
            "y2": {"datum": 3e-12}
          }
        },
        {
          "data": {"name": "xenon"},
          "mark": {"type": "area", "color": "#5f6b6b", "opacity": 0.13, "clip": true},
          "encoding": {
            "x": {"field": "m", "type": "quantitative", "scale": {"type": "log", "domain": [6, 1000], "nice": false},
              "axis": {"orient": "top", "domain": true, "domainWidth": 6, "domainColor": "black", "domainCap": "square", "ticks": false, "labels": false, "title": null, "zindex": 2}},
            "y": {"field": "k", "type": "quantitative", "scale": {"type": "log", "domain": [3e-12, 5e-10], "nice": false},
              "axis": {"orient": "right", "domain": true, "domainWidth": 6, "domainColor": "black", "domainCap": "square", "ticks": false, "labels": false, "title": null, "zindex": 2}},
            "y2": {"datum": 5e-10}
          }
        },
        {
          "data": {"name": "xenon"},
          "mark": {"type": "line", "color": "#636b6b", "strokeWidth": 3.5, "clip": true},
          "encoding": {
            "x": {"field": "m", "type": "quantitative", "scale": {"type": "log", "domain": [6, 1000], "nice": false},
              "axis": {"orient": "bottom", "values": [7, 8, 9, 20, 30, 40, 50, 60, 70, 80, 90, 200, 300, 400, 500, 600, 700, 800, 900], "tickSize": 13, "offset": -13, "tickWidth": 3.5, "labels": false, "title": null}},
            "y": {"field": "k", "type": "quantitative", "scale": {"type": "log", "domain": [3e-12, 5e-10], "nice": false},
              "axis": {"orient": "left", "values": [4e-12, 5e-12, 6e-12, 7e-12, 8e-12, 9e-12, 2e-11, 3e-11, 4e-11, 5e-11, 6e-11, 7e-11, 8e-11, 9e-11, 2e-10, 3e-10, 4e-10], "tickSize": 13, "offset": -13, "tickWidth": 3.5, "labels": false, "title": null}}
          }
        },
        {
          "data": {"name": "freezein"},
          "mark": {"type": "line", "color": "#e8202e", "strokeWidth": 4.5, "interpolate": "monotone", "clip": true},
          "encoding": {
            "x": {"field": "m", "type": "quantitative", "scale": {"type": "log", "domain": [6, 1000], "nice": false},
              "axis": {"orient": "top", "values": [10, 100, 1000], "tickSize": 25, "offset": -25, "tickWidth": 5, "labels": false, "title": null}},
            "y": {"field": "k", "type": "quantitative", "scale": {"type": "log", "domain": [3e-12, 5e-10], "nice": false},
              "axis": {"orient": "right", "values": [1e-11, 1e-10], "tickSize": 25, "offset": -25, "tickWidth": 6, "labels": false, "title": null}}
          }
        },
        {
          "data": {"name": "previous"},
          "mark": {"type": "line", "color": "#5f6767", "strokeWidth": 3.5, "strokeDash": [20, 11], "interpolate": "monotone", "clip": true},
          "encoding": {
            "x": {"field": "m", "type": "quantitative", "scale": {"type": "log", "domain": [6, 1000], "nice": false},
              "axis": {"orient": "top", "values": [7, 8, 9, 20, 30, 40, 50, 60, 70, 80, 90, 200, 300, 400, 500, 600, 700, 800, 900], "tickSize": 13, "offset": -13, "tickWidth": 3.5, "labels": false, "title": null}},
            "y": {"field": "k", "type": "quantitative", "scale": {"type": "log", "domain": [3e-12, 5e-10], "nice": false},
              "axis": {"orient": "right", "values": [4e-12, 5e-12, 6e-12, 7e-12, 8e-12, 9e-12, 2e-11, 3e-11, 4e-11, 5e-11, 6e-11, 7e-11, 8e-11, 9e-11, 2e-10, 3e-10, 4e-10], "tickSize": 13, "offset": -13, "tickWidth": 3.5, "labels": false, "title": null}}
          }
        },
        {
          "data": {"values": [{"m": 80.25, "k": 1.4016e-10, "t": "Dark Sink"}]},
          "mark": {"type": "text", "font": "DejaVu Serif", "fontSize": 59, "color": "#e8202e", "align": "center", "baseline": "alphabetic"},
          "encoding": {
            "x": {"field": "m", "type": "quantitative", "scale": {"type": "log", "domain": [6, 1000], "nice": false}, "axis": null},
            "y": {"field": "k", "type": "quantitative", "scale": {"type": "log", "domain": [3e-12, 5e-10], "nice": false}, "axis": null},
            "text": {"field": "t"}
          }
        },
        {
          "data": {"values": [{"m": 8.15, "k": 6.12e-11, "t": "XENON1T"}]},
          "mark": {"type": "text", "font": "DejaVu Serif", "fontSize": 40, "color": "#636b6b", "align": "center", "baseline": "middle", "angle": 60},
          "encoding": {
            "x": {"field": "m", "type": "quantitative", "scale": {"type": "log", "domain": [6, 1000], "nice": false}, "axis": null},
            "y": {"field": "k", "type": "quantitative", "scale": {"type": "log", "domain": [3e-12, 5e-10], "nice": false}, "axis": null},
            "text": {"field": "t"}
          }
        },
        {
          "data": {"values": [{"m": 11.14, "k": 1.164e-11, "t": "Freeze-in"}]},
          "mark": {"type": "text", "font": "DejaVu Serif", "fontSize": 38, "fontWeight": "bold", "color": "#e8202e", "align": "center", "baseline": "middle", "angle": 19},
          "encoding": {
            "x": {"field": "m", "type": "quantitative", "scale": {"type": "log", "domain": [6, 1000], "nice": false}, "axis": null},
            "y": {"field": "k", "type": "quantitative", "scale": {"type": "log", "domain": [3e-12, 5e-10], "nice": false}, "axis": null},
            "text": {"field": "t"}
          }
        },
        {
          "data": {"values": [{"m": 12.65, "k": 5.74e-12, "t": "previous work"}]},
          "mark": {"type": "text", "font": "DejaVu Serif", "fontSize": 36, "fontWeight": "bold", "color": "#636b6b", "align": "center", "baseline": "middle", "angle": 20},
          "encoding": {
            "x": {"field": "m", "type": "quantitative", "scale": {"type": "log", "domain": [6, 1000], "nice": false}, "axis": null},
            "y": {"field": "k", "type": "quantitative", "scale": {"type": "log", "domain": [3e-12, 5e-10], "nice": false}, "axis": null},
            "text": {"field": "t"}
          }
        },
        {
          "data": {"values": [{"m": 7.31, "k": 3.416e-10, "t": "F"}]},
          "mark": {"type": "text", "font": "DejaVu Serif", "fontSize": 40, "fontWeight": "bold", "fontStyle": "italic", "color": "black", "align": "left", "baseline": "alphabetic"},
          "encoding": {
            "x": {"field": "m", "type": "quantitative", "scale": {"type": "log", "domain": [6, 1000], "nice": false}, "axis": null},
            "y": {"field": "k", "type": "quantitative", "scale": {"type": "log", "domain": [3e-12, 5e-10], "nice": false}, "axis": null},
            "text": {"field": "t"}
          }
        },
        {
          "data": {"values": [{"m": 7.31, "k": 3.416e-10, "t": "DM"}]},
          "mark": {"type": "text", "font": "DejaVu Serif", "fontSize": 29, "fontWeight": "bold", "color": "black", "align": "left", "baseline": "alphabetic", "dx": 27, "dy": 8},
          "encoding": {
            "x": {"field": "m", "type": "quantitative", "scale": {"type": "log", "domain": [6, 1000], "nice": false}, "axis": null},
            "y": {"field": "k", "type": "quantitative", "scale": {"type": "log", "domain": [3e-12, 5e-10], "nice": false}, "axis": null},
            "text": {"field": "t"}
          }
        },
        {
          "data": {"values": [{"m": 7.31, "k": 3.416e-10, "t": "= (αmₑ/q)²"}]},
          "mark": {"type": "text", "font": "DejaVu Serif", "fontSize": 41, "fontWeight": "bold", "fontStyle": "italic", "color": "black", "align": "left", "baseline": "alphabetic", "dx": 94},
          "encoding": {
            "x": {"field": "m", "type": "quantitative", "scale": {"type": "log", "domain": [6, 1000], "nice": false}, "axis": null},
            "y": {"field": "k", "type": "quantitative", "scale": {"type": "log", "domain": [3e-12, 5e-10], "nice": false}, "axis": null},
            "text": {"field": "t"}
          }
        }
      ],
      "resolve": {"axis": {"x": "independent", "y": "independent"}}
    },
    {
      "layer": [
        {
          "data": {"name": "bands"},
          "mark": {"type": "rect"},
          "encoding": {
            "x": {"datum": 0, "type": "quantitative", "scale": {"domain": [0, 1], "range": [1459, 1515], "nice": false, "zero": false}, "axis": null},
            "x2": {"datum": 1},
            "y": {"field": "lo", "type": "quantitative", "scale": {"domain": [1, 10.484], "nice": false, "zero": false},
              "axis": {"orient": "right", "values": [1, 2, 3, 4, 5, 6, 7, 8, 9, 10], "offset": 120, "tickSize": 24, "tickWidth": 4,
                "labelFont": "DejaVu Serif", "labelFontWeight": "bold", "labelFontSize": 40, "labelPadding": 20,
                "labelFlush": false, "labelOverlap": false, "labelBound": false,
                "title": "mΦ/mχ", "titleFont": "DejaVu Serif", "titleFontWeight": "bold", "titleFontStyle": "italic", "titleFontSize": 50, "titleAngle": 90, "titlePadding": 16}},
            "y2": {"field": "hi"},
            "color": {"field": "v", "type": "quantitative", "legend": null,
              "scale": {"type": "threshold", "domain": [1.5,2,2.5,3,3.5,4,4.5,5,5.5,6,6.5,7,7.5,8,8.5,9,9.5,10],
                "range": ["#ffffff","#fef8f9","#fef1f2","#fdeaec","#fce4e6","#fcdde0","#fbd6d9","#facfd3","#f9c8cd","#f9c1c6","#f8bac0","#f7b3ba","#f7acb4","#f6a6ad","#f59fa7","#f498a1","#f4919a","#f38a94","#f38a94"]}}
          }
        },
        {
          "data": {"name": "tri"},
          "mark": {"type": "area"},
          "encoding": {
            "x": {"field": "p", "type": "quantitative", "scale": {"domain": [0, 1], "range": [1459, 1515], "nice": false, "zero": false}, "axis": null},
            "y": {"field": "t", "type": "quantitative", "scale": {"domain": [1, 10.484], "nice": false, "zero": false}, "axis": null},
            "y2": {"field": "b"},
            "color": {"field": "v", "type": "quantitative", "legend": null,
              "scale": {"type": "threshold", "domain": [1.5,2,2.5,3,3.5,4,4.5,5,5.5,6,6.5,7,7.5,8,8.5,9,9.5,10],
                "range": ["#ffffff","#fef8f9","#fef1f2","#fdeaec","#fce4e6","#fcdde0","#fbd6d9","#facfd3","#f9c8cd","#f9c1c6","#f8bac0","#f7b3ba","#f7acb4","#f6a6ad","#f59fa7","#f498a1","#f4919a","#f38a94","#f38a94"]}}
          }
        },
        {
          "data": {"name": "outline"},
          "mark": {"type": "line", "color": "black", "strokeWidth": 5, "strokeJoin": "miter", "strokeCap": "square"},
          "encoding": {
            "x": {"field": "p", "type": "quantitative", "scale": {"domain": [0, 1], "range": [1459, 1515], "nice": false, "zero": false}, "axis": null},
            "y": {"field": "t", "type": "quantitative", "scale": {"domain": [1, 10.484], "nice": false, "zero": false},
              "axis": {"orient": "right", "values": [1.5, 2.5, 3.5, 4.5, 5.5, 6.5, 7.5, 8.5, 9.5], "offset": 134, "tickSize": 10, "tickWidth": 3, "labels": false, "title": null}},
            "order": {"field": "o"}
          }
        }
      ],
      "resolve": {"axis": {"y": "independent"}}
    }
  ],
  "resolve": {"scale": {"x": "independent", "y": "independent"}, "axis": {"x": "independent", "y": "independent"}}
}
